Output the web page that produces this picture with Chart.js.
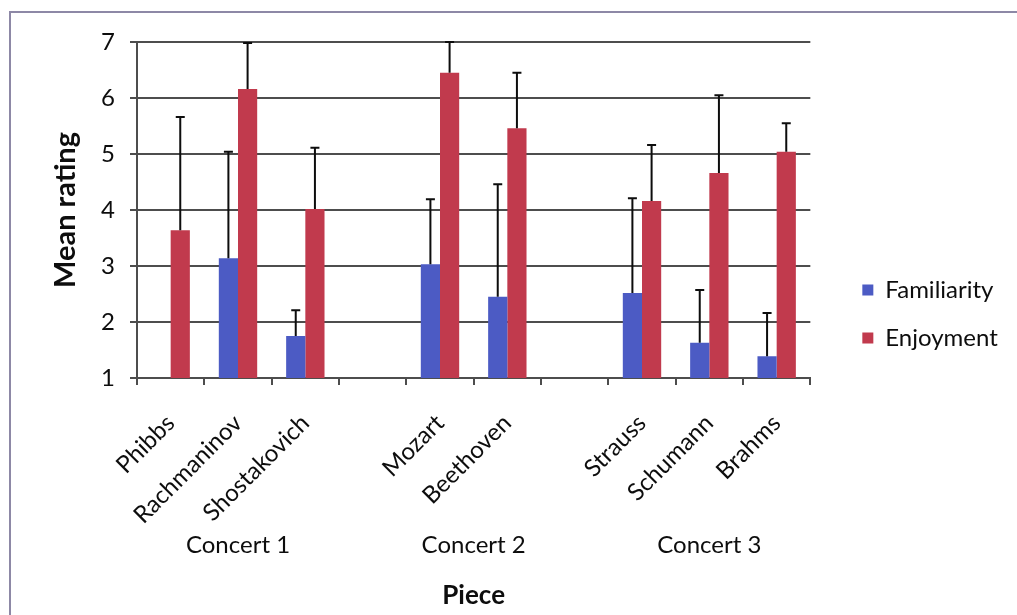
<!DOCTYPE html>
<html>
<head>
<meta charset="utf-8">
<script src="https://cdn.jsdelivr.net/npm/chart.js@4.4.1/dist/chart.umd.min.js"></script>
<style>
  html, body { margin: 0; padding: 0; background: #ffffff; }
  #wrap { width: 1017px; height: 615px; position: relative; }
</style>
</head>
<body>
<div id="wrap"><canvas id="c" width="1017" height="615"></canvas></div>
<script>
// ---- data ----
const categories = ['Phibbs', 'Rachmaninov', 'Shostakovich', '', 'Mozart', 'Beethoven', '', 'Strauss', 'Schumann', 'Brahms'];
const familiarity    = [null, 3.14, 1.75, null, 3.03, 2.45, null, 2.52, 1.63, 1.39];
const familiarityErr = [null, 1.90, 0.46, null, 1.16, 2.01, null, 1.69, 0.94, 0.77];
const enjoyment      = [3.64, 6.16, 4.02, null, 6.45, 5.46, null, 4.16, 4.66, 5.04];
const enjoymentErr   = [2.02, 0.82, 1.09, null, 0.55, 0.99, null, 1.00, 1.39, 0.51];
const concerts      = ['Concert 1', 'Concert 2', 'Concert 3'];
const concertFirst  = [0, 4, 7];
const concertLast   = [2, 5, 9];
const yMin = 1, yMax = 7, yStep = 1;

const BLUE = '#4c5bc4';
const RED = '#c13a4d';
const INK = '#0d0d0d';
const GRID = '#4d4d4d';
const FONT = 'Lato, "Open Sans", sans-serif';

const bgPlugin = {
  id: 'bg',
  beforeDraw(chart) {
    const ctx = chart.ctx;
    ctx.save();
    ctx.fillStyle = '#ffffff';
    ctx.fillRect(0, 0, chart.width, chart.height);
    ctx.strokeStyle = '#8d88a6';
    ctx.lineWidth = 2;
    ctx.beginPath();
    ctx.moveTo(10, chart.height);
    ctx.lineTo(10, 12);
    ctx.lineTo(chart.width, 12);
    ctx.stroke();
    ctx.restore();
  }
};

const errorPlugin = {
  id: 'errbars',
  afterDatasetsDraw(chart) {
    const ctx = chart.ctx;
    const yScale = chart.scales.y;
    ctx.save();
    ctx.strokeStyle = INK;
    ctx.lineWidth = 2;
    chart.data.datasets.forEach((ds, i) => {
      const meta = chart.getDatasetMeta(i);
      meta.data.forEach((bar, j) => {
        const v = ds.data[j], e = ds.errors[j];
        if (v == null || e == null) return;
        const yTop = yScale.getPixelForValue(v + e);
        const yVal = yScale.getPixelForValue(v);
        ctx.beginPath();
        ctx.moveTo(bar.x, yVal);
        ctx.lineTo(bar.x, yTop);
        ctx.moveTo(bar.x - 4.5, yTop);
        ctx.lineTo(bar.x + 4.5, yTop);
        ctx.stroke();
      });
    });
    ctx.restore();
  }
};

const concertPlugin = {
  id: 'concerts',
  afterDraw(chart) {
    const ctx = chart.ctx;
    const xs = chart.scales.x;
    ctx.save();
    ctx.fillStyle = INK;
    ctx.font = '24px ' + FONT;
    ctx.textAlign = 'center';
    ctx.textBaseline = 'middle';
    concerts.forEach((name, k) => {
      const x = (xs.getPixelForValue(concertFirst[k]) + xs.getPixelForValue(concertLast[k])) / 2;
      ctx.fillText(name, x, chart.chartArea.bottom + 167);
    });
    ctx.restore();
  }
};

new Chart(document.getElementById('c'), {
  type: 'bar',
  data: {
    labels: categories,
    datasets: [
      { label: 'Familiarity', data: familiarity, errors: familiarityErr, backgroundColor: BLUE, borderWidth: 0 },
      { label: 'Enjoyment', data: enjoyment, errors: enjoymentErr, backgroundColor: RED, borderWidth: 0 }
    ]
  },
  options: {
    responsive: false,
    animation: false,
    layout: { padding: { left: 10, top: 13, right: 13, bottom: 0 } },
    datasets: { bar: { categoryPercentage: 0.57, barPercentage: 1.0 } },
    plugins: {
      title: { display: true, text: ' ', font: { size: 10, lineHeight: 1 }, padding: { top: 19, bottom: 0 } },
      legend: {
        position: 'right',
        align: 'center',
        labels: { font: { family: FONT, size: 24 }, color: INK, boxWidth: 11, boxHeight: 11, padding: 24 }
      },
      tooltip: { enabled: false }
    },
    scales: {
      x: {
        grid: { display: true, drawOnChartArea: false, offset: true, tickLength: 7, color: GRID, lineWidth: 2 },
        border: { color: GRID, width: 2 },
        ticks: { autoSkip: false, minRotation: 45, maxRotation: 45, padding: 24, color: INK, font: { family: FONT, size: 24 } },
        title: { display: true, text: 'Piece', color: INK, font: { family: FONT, size: 26, weight: 'bold' }, padding: { top: 0, bottom: 4 } },
        afterFit(s) { s.height = 237; }
      },
      y: {
        min: yMin, max: yMax,
        grid: { color: GRID, lineWidth: 2, tickLength: 7 },
        border: { color: GRID, width: 2 },
        ticks: { stepSize: yStep, padding: 15, color: INK, font: { family: FONT, size: 24 } },
        title: { display: true, text: 'Mean rating', color: INK, font: { family: FONT, size: 29, weight: 'bold' }, padding: { top: 38, bottom: 0 } },
        afterFit(s) { s.width = 127; }
      },
      y2: {
        position: 'right',
        display: true,
        grid: { display: false },
        ticks: { display: false },
        border: { display: false },
        afterFit(s) { s.width = 28; }
      }
    }
  },
  plugins: [bgPlugin, errorPlugin, concertPlugin]
});
</script>
</body>
</html>
